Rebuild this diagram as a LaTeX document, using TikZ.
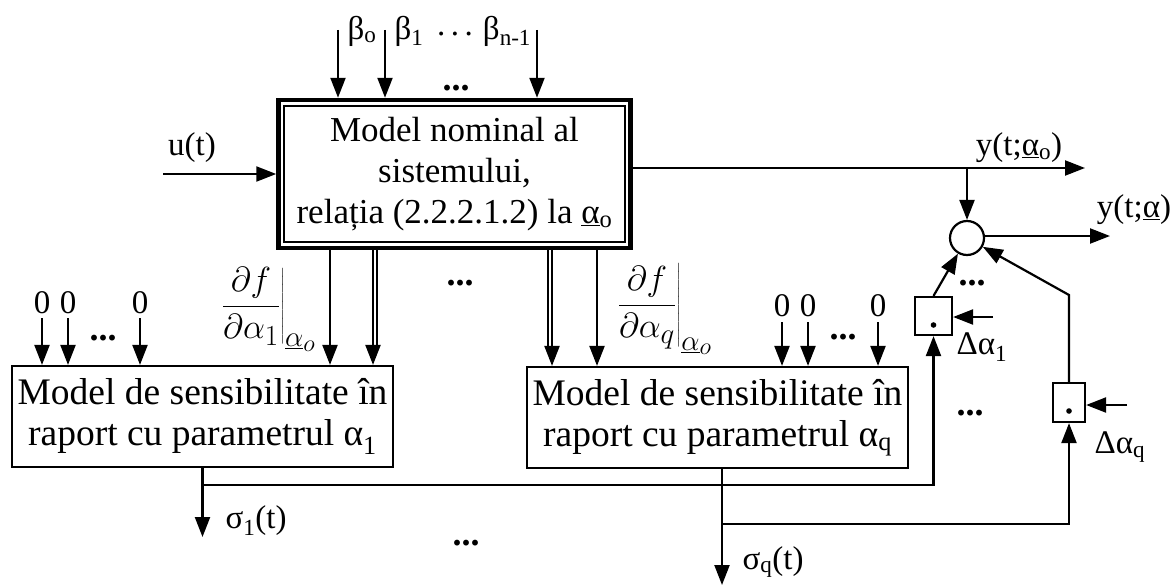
\documentclass[tikz,border=0pt]{standalone}
\usepackage{fontspec}
\setmainfont{Liberation Serif}
\usetikzlibrary{arrows.meta,calc}
\newcommand\bigfs{\fontsize{35}{41}\selectfont}
\newcommand\senfs{\fontsize{37.5}{41}\selectfont}
\newcommand\lblfs{\fontsize{33}{38}\selectfont}
\newcommand\derivlbl[1]{\scalebox{1.4}{$\displaystyle\left.\frac{\partial f}{\partial\alpha_{#1}}\right|_{\underline{\alpha}_o}$}}
\begin{document}
\begin{tikzpicture}[x=1pt,y=-1pt,line width=2.2pt,
  arr/.style={-{Triangle[length=20pt,width=15pt]}},
  blk/.style={draw,line width=2.2pt,minimum width=381pt,minimum height=101pt,align=center,font=\senfs,inner sep=0pt},
  lbl/.style={font=\lblfs,inner sep=0pt},
  dots/.style={font=\fontsize{36}{40}\selectfont\bfseries,inner sep=0pt},
  mul/.style={draw,line width=2.2pt,inner sep=0pt},
  frac/.style={font=\fontsize{24.88}{30}\selectfont,inner sep=0pt}]
\useasboundingbox (0,0) rectangle (1174,586);

% main box
\node[draw,line width=4.5pt,minimum width=352pt,minimum height=148pt,align=center,font=\bigfs,inner sep=0pt]
  (main) at (454.5,174) {Model nominal al\\sistemului,\\relația (2.2.2.1.2) la \underline{α}\textsubscript{o}};
\draw[line width=1.8pt] ($(main.north west)+(8,8)$) rectangle ($(main.south east)+(-8,-8)$);

% sensitivity boxes
\node[blk] (s1) at (202.5,416.5) {Model de sensibilitate în\\raport cu parametrul α\textsubscript{1}};
\node[blk] (sq) at (717.5,417.5) {Model de sensibilitate în\\raport cu parametrul α\textsubscript{q}};

% multipliers and sum
\node[mul,minimum width=37pt,minimum height=38pt] (m1) at (933.5,316) {};
\node[mul,minimum width=32pt,minimum height=39pt] (mq) at (1069,402.5) {};
\fill (933.5,325) circle (2.8pt);
\fill (1069,411) circle (2.8pt);
\node[draw,circle,line width=2.2pt,minimum size=34pt,inner sep=0pt] (sum) at (967,238) {};

% beta inputs
\coordinate (b0) at (338,30);
\coordinate (b1) at (385,30);
\coordinate (bn) at (537,30);
\draw[arr] (b0) -- (b0 |- main.north);
\draw[arr] (b1) -- (b1 |- main.north);
\draw[arr] (bn) -- (bn |- main.north);
\node[lbl] (lb0) at (362,31) {β\textsubscript{o}};
\node[lbl] (lb1) at (409,31) {β\textsubscript{1}};
\node[lbl,anchor=base] (lbd) at (455,36) {.\,.\,.};
\node[lbl] (lbn) at (507,31) {β\textsubscript{n-1}};
\node[dots] (bdots) at (456,88) {...};

% u(t)
\coordinate (u) at (163,174);
\draw[arr] (u) -- (u -| main.west);
\node[lbl] (lu) at (192,148) {u(t)};

% output y
\coordinate (yo) at (1085,168);
\coordinate (j) at (967,168);
\draw[arr] (main.east |- yo) -- (yo);
\draw[arr] (j) -- (sum.north);
\node[lbl] (lyo) at (1019,148) {y(t;\underline{α}\textsubscript{o})};
\coordinate (ya) at (1110,236);
\draw[arr] (sum.east |- ya) -- (ya);
\node[lbl] (lya) at (1134,210) {y(t;\underline{α})};
\node[dots] (sdots) at (972,283) {...};

% derivative inputs
\coordinate (d1) at (330,250);
\coordinate (d2) at (373,250);
\coordinate (d3) at (552,250);
\coordinate (d4) at (597,250);
\draw[arr] (d1 |- main.south) -- (d1 |- s1.north);
\draw[arr] (d2 |- main.south) -- (d2 |- s1.north);
\draw[line width=1.6pt] ($(d2 |- main.south)+(3.8,0)$) -- ($(d2 |- s1.north)+(3.8,-20)$);
\draw[arr] (d3 |- main.south) -- (d3 |- sq.north);
\draw[line width=1.6pt] ($(d3 |- main.south)+(-3.8,0)$) -- ($(d3 |- sq.north)+(-3.8,-20)$);
\draw[arr] (d4 |- main.south) -- (d4 |- sq.north);
\node[frac] (f1) at (268,309) {\derivlbl{1}};
\node[frac] (f2) at (664,309) {\derivlbl{q}};
\node[dots] (mdots) at (460,283) {...};

% zero inputs box 1
\foreach \x/\n in {42/za,68/zb,140/zc}{
  \coordinate (\n) at (\x,318);
  \draw[arr] (\n) -- (\n |- s1.north);
  \node[lbl] at (\x,303) {0};
}
\node[dots] (zd1) at (103,338) {...};
% zero inputs box q
\foreach \x/\n in {782/zd,808/ze,878/zf}{
  \coordinate (\n) at (\x,322);
  \draw[arr] (\n) -- (\n |- sq.north);
  \node[lbl] at (\x,306) {0};
}
\node[dots] (zd2) at (843,337) {...};

% sigma outputs
\coordinate (o1) at (202.5,537);
\coordinate (h1) at (933.5,485);
\draw[arr] (s1.south) -- (o1);
\draw[arr] (s1.south |- h1) -- (h1) -- (m1.south);
\node[lbl] (ls1) at (256,521) {σ\textsubscript{1}(t)};
\node[dots] (odots) at (466,543) {...};

\coordinate (oq) at (722,585);
\coordinate (hq) at (1069,524);
\draw[arr] (oq |- sq.south) -- (oq);
\draw[arr] (oq |- hq) -- (hq) -- (mq.south);
\node[lbl] (lsq) at (773,562) {σ\textsubscript{q}(t)};

% multiplier outputs
\coordinate (bend) at (1069,295);
\draw[arr] (m1.north) -- (sum);
\draw[arr] (mq.north) -- (bend) -- (sum);

% delta inputs
\coordinate (da1) at (993,317);
\coordinate (daq) at (1127,405);
\draw[arr] (da1) -- (da1 -| m1.east);
\draw[arr] (daq) -- (daq -| mq.east);
\node[lbl] (lda1) at (982,347) {Δα\textsubscript{1}};
\node[lbl] (ldaq) at (1120,447) {Δα\textsubscript{q}};
\node[dots] (rdots) at (970,413) {...};
\end{tikzpicture}
\end{document}
